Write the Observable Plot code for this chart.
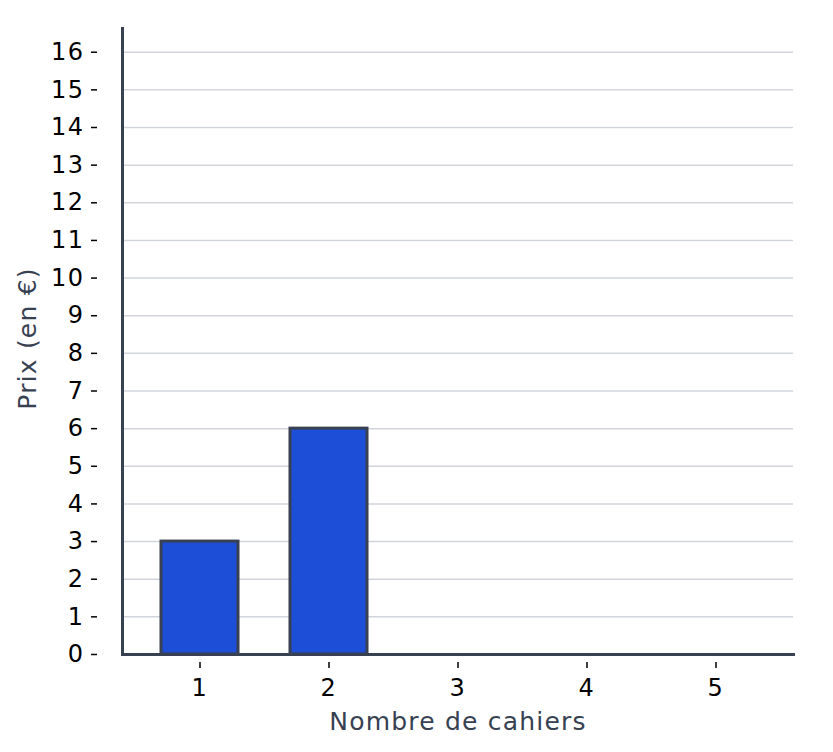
<!DOCTYPE html>
<html>
<head>
<meta charset="utf-8">
<script src="https://cdn.jsdelivr.net/npm/d3@7"></script>
<script src="https://cdn.jsdelivr.net/npm/@observablehq/plot@0.6"></script>
<style>
  html, body { margin: 0; padding: 0; background: #fff; }
  #chart svg { display: block; }
  #chart svg g[aria-label="y-axis tick label"] text,
  #chart svg g[aria-label="x-axis tick label"] text { letter-spacing: 1.5px; }
  #chart svg g[aria-label="text"] text { letter-spacing: 1.2px; }
</style>
</head>
<body>
<div id="chart"></div>
<script>
const categories = ["1", "2", "3", "4", "5"];
const prices = [3, 6, 0, 0, 0];
const yTicks = [0, 1, 2, 3, 4, 5, 6, 7, 8, 9, 10, 11, 12, 13, 14, 15, 16];
const xTitle = "Nombre de cahiers";
const yTitle = "Prix (en €)";

const data = categories.map((c, i) => ({cat: c, price: prices[i]}));

const axisColor = "#374151";

const chart = Plot.plot({
  width: 833,
  height: 752,
  marginLeft: 122,
  marginRight: 40,
  marginTop: 28,
  marginBottom: 98,
  style: {fontFamily: "DejaVu Sans", fontSize: "24px", color: "#000", background: "#fff"},
  x: {domain: categories, paddingInner: 0.4, paddingOuter: 0.3, label: null, axis: null},
  y: {domain: [0, 16.63], label: null, axis: null},
  marks: [
    Plot.gridY(yTicks.filter(d => d > 0), {stroke: "#d1d5db", strokeOpacity: 1, strokeWidth: 1.5}),
    Plot.barY(data, {x: "cat", y: "price", fill: "#1d4ed8", stroke: axisColor, strokeWidth: 3}),
    Plot.axisY({ticks: yTicks, tickFormat: d => String(d), tickSize: 6, tickPadding: 7, dx: -25, stroke: "#000", strokeWidth: 1.5, label: null, fontSize: 24}),
    Plot.axisX({tickSize: 6, tickPadding: 10, dy: 8, stroke: "#000", strokeWidth: 1.5, label: null, fontSize: 24}),
    Plot.frame({anchor: "left", stroke: axisColor, strokeWidth: 3}),
    Plot.frame({anchor: "bottom", stroke: axisColor, strokeWidth: 3}),
    Plot.text([xTitle], {frameAnchor: "bottom", dy: 67, textAnchor: "middle", lineAnchor: "middle", fill: axisColor, fontSize: 25}),
    Plot.text([yTitle], {frameAnchor: "left", dx: -95, dy: -3, rotate: -90, textAnchor: "middle", lineAnchor: "middle", fill: axisColor, fontSize: 25})
  ]
});

document.getElementById("chart").appendChild(chart);
</script>
</body>
</html>
